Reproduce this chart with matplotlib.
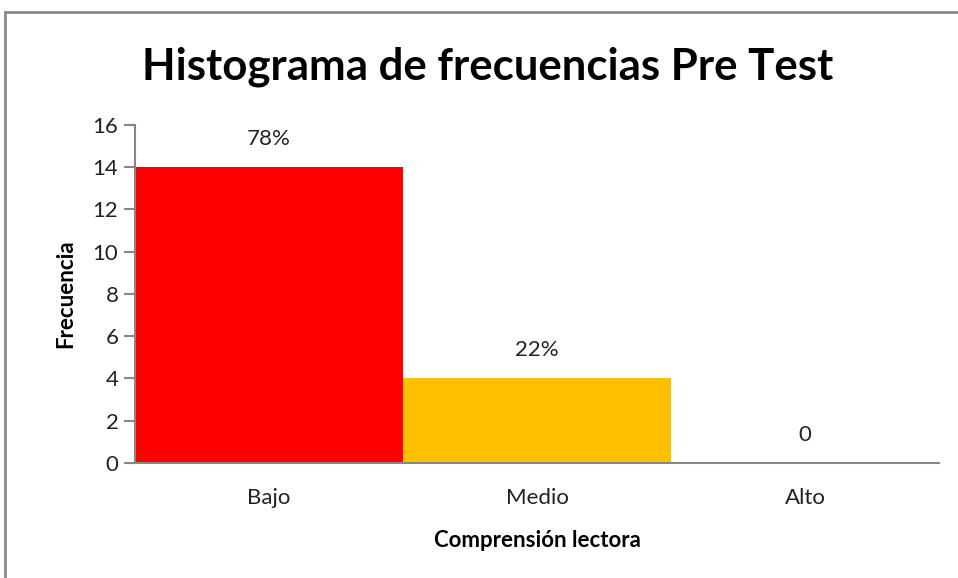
import matplotlib
matplotlib.use("Agg")
import matplotlib.pyplot as plt
from matplotlib.patches import Rectangle

categories = ["Bajo", "Medio", "Alto"]
values = [14, 4, 0]
labels = ["78%", "22%", "0"]
colors = ["#FF0000", "#FFC000", "#4472C4"]
yticks = [0, 2, 4, 6, 8, 10, 12, 14, 16]

plt.rcParams['font.family'] = ['Lato', 'DejaVu Sans']

fig = plt.figure(figsize=(9.58, 5.78), dpi=100)
ax = fig.add_axes([0.141, 0.199, 0.839, 0.585])

x = list(range(len(categories)))
ax.bar(x, values, width=1.0, color=colors, edgecolor='none')
for xi, v, lab in zip(x, values, labels):
    ax.annotate(lab, (xi, v), xytext=(0, 13), textcoords='offset points',
                ha='center', va='bottom', fontsize=16, color='#222222')

ax.set_xlim(-0.5, len(categories) - 0.5)
ax.set_ylim(0, 16)
ax.set_yticks(yticks)
ax.set_xticks(x)
ax.set_xticklabels(categories)
ax.tick_params(axis='x', length=0, pad=18, labelsize=16, labelcolor='#222222')
ax.tick_params(axis='y', length=8, width=1.5, color='#868686', labelsize=16,
               labelcolor='#222222', pad=4)
for s in ['top', 'right']:
    ax.spines[s].set_visible(False)
for s in ['left', 'bottom']:
    ax.spines[s].set_color('#868686')
    ax.spines[s].set_linewidth(1.5)

ax.set_ylabel("Frecuencia", fontsize=16, fontweight='bold', labelpad=12)
ax.set_xlabel("Comprensión lectora", fontsize=16, fontweight='bold', labelpad=16)

fig.text(0.509, 0.885, "Histograma de frecuencias Pre Test", ha='center', va='center',
         fontsize=31.5, fontweight='bold')

# outer chart border (top and left visible)
fig.patches.append(Rectangle((5/958, -0.05), 1.1, 1 - 12/578 + 0.05, transform=fig.transFigure,
                             fill=False, edgecolor='#8a8a8a', linewidth=2))

fig.savefig("out.png", dpi=100)
